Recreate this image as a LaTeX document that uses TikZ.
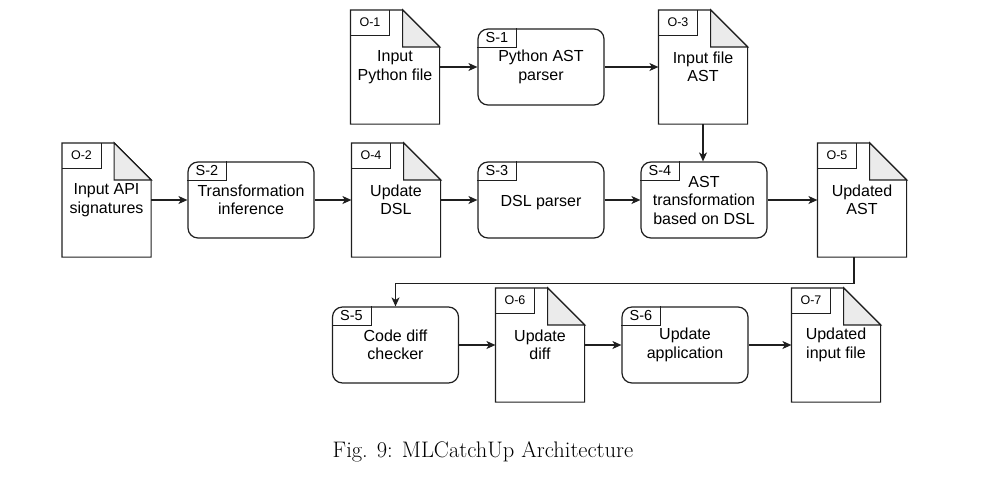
\documentclass[tikz,border=0pt]{standalone}
\usepackage{fontspec}
\setsansfont{Liberation Sans}
\usetikzlibrary{arrows.meta}
\definecolor{line}{gray}{0.12}
\definecolor{foldgray}{gray}{0.92}

\begin{document}
\begin{tikzpicture}[%
x=1pt, y=-1pt, line width=1.2pt,
>={Stealth[length=9pt,width=8pt,inset=2.5pt]},
doc/.style={minimum width=88pt, minimum height=113pt, inner sep=0pt, align=center, font=\sffamily\fontsize{16}{18.5}\selectfont, execute at begin node={\rule{0pt}{15.5pt}}},
proc/.style={draw=line, rounded corners=10pt, minimum width=126pt, minimum height=76pt, inner sep=0pt, align=center, font=\sffamily\fontsize{16}{18.5}\selectfont, execute at begin node={\rule{0pt}{15.5pt}}},
otag/.style={anchor=north west, minimum width=38pt, minimum height=24pt, inner sep=0pt, font=\sffamily\fontsize{12.5}{14}\selectfont},
stag/.style={anchor=north west, minimum width=38pt, minimum height=18pt, inner sep=0pt, font=\sffamily\fontsize{14.5}{16}\selectfont},
fold/.style={draw=line, fill=foldgray},
link/.style={->, draw=line}]%Styles for documents, process boxes, tags and arrows
\useasboundingbox (0,0) rectangle (984,477);
% documents
\node[doc] (O1) at (395,67) {Input\\Python file};
\node[doc] (O3) at (703,67) {Input file\\AST};
\node[doc] (O2) at (106.5,200) {Input API\\signatures};
\node[doc] (O4) at (396,200) {Update\\DSL};
\node[doc] (O5) at (862,200) {Updated\\AST};
\node[doc] (O6) at (540,345) {Update\\diff};
\node[doc] (O7) at (836,345) {Updated\\input file};
\foreach \d in {O1,O2,O3,O4,O5,O6,O7}{
  \draw[draw=line] (\d.north west) -- ([xshift=-37pt]\d.north east) -- ([yshift=-37pt]\d.north east) -- (\d.south east) -- (\d.south west) -- cycle;
  \draw[fold] ([xshift=-37pt]\d.north east) -- ([xshift=-37pt,yshift=-37pt]\d.north east) -- ([yshift=-37pt]\d.north east) -- cycle;
}
% process steps
\node[proc] (S1) at (541,67) {Python AST\\parser};
\node[proc] (S2) at (251,200) {Transformation\\inference};
\node[proc] (S3) at (541,200) {DSL parser};
\node[proc] (S4) at (704,200) {AST\\transformation\\based on DSL};
\node[proc] (S5) at (395.5,345) {Code diff\\checker};
\node[proc] (S6) at (685,345) {Update\\application};
% tags
\foreach \d/\t in {O1/O-1,O2/O-2,O3/O-3,O4/O-4,O5/O-5,O6/O-6,O7/O-7}{
  \node[otag] (t\d) at (\d.north west) {\t};
  \draw[draw=line] (t\d.north east) |- (t\d.south west);
}
\foreach \d/\t in {S1/S-1,S2/S-2,S3/S-3,S4/S-4,S5/S-5,S6/S-6}{
  \node[stag] (t\d) at (\d.north west) {\t};
  \draw[draw=line] (t\d.north east) |- (t\d.south west);
}
% arrows
\draw[link] (O1.east) -- (S1.west |- O1.east);
\draw[link] (S1.east) -- (O3.west |- S1.east);
\draw[link] (O3.south) -- (O3.south |- S4.north);
\draw[link] (O2.east) -- (S2.west);
\draw[link] (S2.east) -- (O4.west);
\draw[link] (O4.east) -- (S3.west);
\draw[link] (S3.east) -- (S4.west);
\draw[link] (S4.east) -- (O5.west);
\draw[link] ([xshift=-8pt]O5.south) -- ++(0,26) -| (S5.north);
\draw[link] (S5.east) -- (O6.west);
\draw[link] (O6.east) -- (S6.west);
\draw[link] (S6.east) -- (O7.west);
% caption
\node[anchor=base, font=\rmfamily\fontsize{22.5}{26}\selectfont] (cap) at (483,457) {Fig. 9: MLCatchUp Architecture};
\end{tikzpicture}
\end{document}
